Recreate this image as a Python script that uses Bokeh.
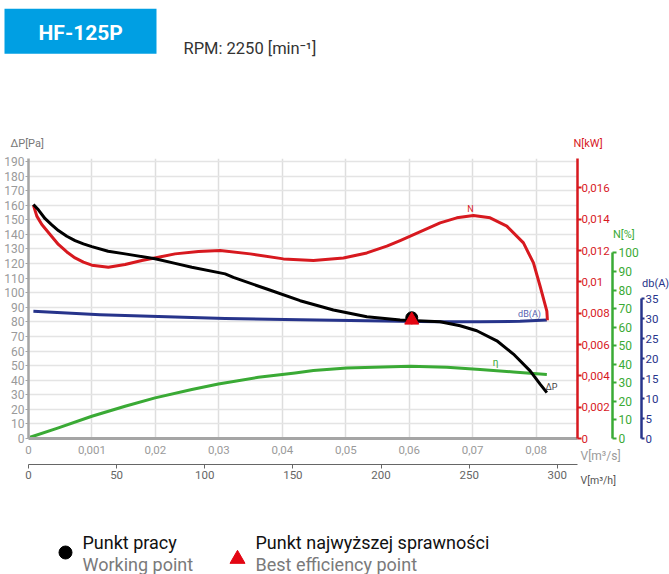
from bokeh.plotting import figure
from bokeh.models import Range1d, LinearAxis, FixedTicker
from bokeh.core.properties import value
from bokeh.embed import file_html
from bokeh.resources import INLINE

# ---------------- data ----------------
flow_dp = [0.00077, 0.00156, 0.00262, 0.00367, 0.00471, 0.00604, 0.00734, 0.00865, 0.00998,
           0.01255, 0.01522, 0.01995, 0.02310, 0.02574, 0.03099, 0.03229, 0.03756, 0.04281,
           0.04805, 0.05332, 0.05857, 0.06487, 0.06802, 0.07065, 0.07381, 0.07642, 0.07905,
           0.08063, 0.08169]
dp_pa = [160.5, 156.8, 150.7, 146.5, 142.6, 138.7, 135.7, 133.5, 131.6,
         128.4, 126.6, 123.2, 120.1, 117.4, 112.9, 110.5, 102.5, 94.5,
         88.1, 83.5, 81.2, 80.1, 77.3, 73.9, 67.0, 57.9, 46.4,
         37.3, 31.5]

flow_n = [0.00077, 0.00131, 0.00210, 0.00340, 0.00471, 0.00604, 0.00734, 0.00865, 0.00998,
          0.01259, 0.01522, 0.01786, 0.02047, 0.02310, 0.02678, 0.03020, 0.03493, 0.04017,
          0.04490, 0.04963, 0.05332, 0.05647, 0.05857, 0.06487, 0.06750, 0.07012, 0.07275,
          0.07538, 0.07800, 0.07958, 0.08063, 0.08169, 0.08178]
power_kw = [0.01490, 0.01420, 0.01366, 0.01303, 0.01239, 0.01191, 0.01153, 0.01126, 0.01107,
            0.01094, 0.01111, 0.01137, 0.01158, 0.01179, 0.01194, 0.01200, 0.01179, 0.01147,
            0.01137, 0.01153, 0.01185, 0.01228, 0.01264, 0.01377, 0.01409, 0.01424, 0.01409,
            0.01356, 0.01249, 0.01121, 0.00972, 0.00813, 0.00755]

flow_db = [0.00077, 0.01128, 0.03099, 0.04281, 0.05857, 0.06487, 0.07117, 0.07747, 0.08169]
noise_db = [31.8, 30.95, 30.0, 29.7, 29.3, 29.2, 29.2, 29.3, 29.6]

flow_eta = [0.00025, 0.00471, 0.00998, 0.01522, 0.01995, 0.02574, 0.02993, 0.03623, 0.04202,
            0.04490, 0.05017, 0.06014, 0.06593, 0.07117, 0.07642, 0.08169]
eta_pct = [0.7, 5.7, 12.0, 17.4, 21.9, 26.4, 29.4, 33.0, 35.3,
           36.6, 38.0, 39.0, 38.4, 37.2, 35.9, 34.5]

working_point_flow = [0.0604]
working_point_dp = [82.8]
best_eff_flow = [0.0604]
best_eff_dp = [81.2]

dp_ticks = list(range(0, 191, 10))
m3s_ticks = [0, 0.01, 0.02, 0.03, 0.04, 0.05, 0.06, 0.07, 0.08]
m3s_labels = ["0", "0,001", "0,02", "0,03", "0,04", "0,05", "0,06", "0,07", "0,08"]
m3h_ticks = [0, 50, 100, 150, 200, 250, 300]
kw_ticks = [0, 0.002, 0.004, 0.006, 0.008, 0.01, 0.012, 0.014, 0.016]
kw_labels = ["0", "0,002", "0,004", "0,006", "0,008", "0,01", "0,012", "0,014", "0,016"]
eta_ticks = [0, 10, 20, 30, 40, 50, 60, 70, 80, 90, 100]
db_ticks = [0, 5, 10, 15, 20, 25, 30, 35]

title_text = "HF-125P"
rpm_text = "RPM: 2250 [min⁻¹]"
legend_main = ["Punkt pracy", "Punkt najwyższej sprawności"]
legend_sub = ["Working point", "Best efficiency point"]

# ---------------- layout ----------------
W, H = 669, 574
FL, FR, FT, FB = 28, 577, 158, 438
XMAX = 0.08652
YMAX = 192.0
KWMAX = 0.01788
ETAMAX = 150.9
DBMAX = 70.0

RED = "#d7191f"
GREEN = "#3aaa35"
NAVY = "#27348b"
GRAY = "#9a9a9a"
FONT = "Roboto"

p = figure(width=W, height=H, output_backend="svg", toolbar_location=None,
           x_range=Range1d(0, XMAX), y_range=Range1d(0, YMAX),
           min_border_left=FL, min_border_right=W - FR,
           min_border_top=FT, min_border_bottom=H - FB)
p.outline_line_color = None
p.background_fill_color = "white"
p.border_fill_color = "white"

p.extra_y_ranges = {"kw": Range1d(0, KWMAX), "eta": Range1d(0, ETAMAX), "db": Range1d(0, DBMAX)}
p.extra_x_ranges = {"h": Range1d(0, XMAX * 3600)}

# grids
p.xgrid.ticker = FixedTicker(ticks=m3s_ticks)
p.ygrid.ticker = FixedTicker(ticks=dp_ticks)
p.xgrid.grid_line_color = "#dedede"
p.xgrid.grid_line_width = 1.5
p.ygrid.grid_line_color = "#e4e4e4"
p.ygrid.grid_line_width = 1.5

# left axis
ya = p.yaxis[0]
ya.ticker = FixedTicker(ticks=dp_ticks)
ya.axis_line_color = "#a5a5a5"
ya.axis_line_width = 2.5
ya.major_tick_out = 3
ya.major_tick_in = 0
ya.major_tick_line_color = "#a5a5a5"
ya.minor_tick_line_color = None
ya.major_label_standoff = 1
ya.major_label_text_font = FONT
ya.major_label_text_font_size = "12px"
ya.major_label_text_color = GRAY

# bottom axis m3/s
xa = p.xaxis[0]
xa.ticker = FixedTicker(ticks=m3s_ticks)
xa.major_label_overrides = dict(zip(m3s_ticks, m3s_labels))
xa.axis_line_color = "#a5a5a5"
xa.axis_line_width = 3
xa.major_tick_out = 0
xa.major_tick_in = 0
xa.minor_tick_line_color = None
xa.major_label_standoff = 7
xa.major_label_text_font = FONT
xa.major_label_text_font_size = "11.5px"
xa.major_label_text_color = GRAY
xa.axis_label = " "
xa.axis_label_text_font_size = "4px"
xa.axis_label_standoff = 0

# bottom axis m3/h
xh = LinearAxis(x_range_name="h", ticker=FixedTicker(ticks=m3h_ticks))
xh.axis_line_color = "#666666"
xh.axis_line_width = 1
xh.major_tick_out = 4
xh.major_tick_in = 0
xh.major_tick_line_color = "#666666"
xh.minor_tick_line_color = None
xh.major_label_standoff = 2
xh.major_label_text_font = FONT
xh.major_label_text_font_size = "11.5px"
xh.major_label_text_color = "#666666"
p.add_layout(xh, "below")


def right_axis(name, ticks, bounds, color, standoff, tick_out, size, overrides=None):
    ax = LinearAxis(y_range_name=name, ticker=FixedTicker(ticks=ticks), bounds=bounds)
    ax.axis_line_color = color
    ax.axis_line_width = 2.5
    ax.major_tick_out = tick_out
    ax.major_tick_in = 0
    ax.major_tick_line_color = color
    ax.major_tick_line_width = 2
    ax.minor_tick_line_color = None
    ax.major_label_standoff = standoff
    ax.major_label_text_font = FONT
    ax.major_label_text_font_size = size
    ax.major_label_text_color = color
    if overrides:
        ax.major_label_overrides = overrides
    p.add_layout(ax, "right")
    return ax

right_axis("kw", kw_ticks, (0, KWMAX), RED, 0, 4, "11.5px", dict(zip(kw_ticks, kw_labels)))
right_axis("eta", eta_ticks, (0, 100), GREEN, 2, 4, "12px")
right_axis("db", db_ticks, (0, 35), NAVY, 1, 3, "11.5px")

# curves
p.line(flow_eta, eta_pct, y_range_name="eta", line_color=GREEN, line_width=3, line_join="round")
p.line(flow_db, noise_db, y_range_name="db", line_color=NAVY, line_width=3, line_join="round")
p.line(flow_n, power_kw, y_range_name="kw", line_color=RED, line_width=3, line_join="round")
p.line(flow_dp, dp_pa, line_color="black", line_width=3, line_join="round")

p.scatter(working_point_flow, working_point_dp, marker="circle", size=12,
          fill_color="black", line_color="black")
p.scatter(best_eff_flow, best_eff_dp, marker="triangle", size=14,
          fill_color="#e30613", line_color="#e30613")

# ---------------- transparent overlay (page pixel coordinates) for texts outside the frame ----------------
ov = figure(width=W, height=H, output_backend="svg", toolbar_location=None,
            x_range=Range1d(0, W), y_range=Range1d(H, 0),
            x_axis_type=None, y_axis_type=None,
            min_border_left=0, min_border_right=0, min_border_top=0, min_border_bottom=0,
            styles={"position": "absolute", "left": "0px", "top": "0px", "z-index": "5"})
ov.outline_line_color = None
ov.background_fill_color = None
ov.border_fill_color = None
ov.grid.visible = False


def txt(s, x, y, size, color, align="left", style="normal"):
    ov.text(x=[x], y=[y], text=[s], text_font=value(FONT), text_font_size=value(size),
            text_color=color, text_align=align, text_baseline="middle",
            text_font_style=style)

# header
ov.quad(left=[4], right=[156], top=[8.3], bottom=[53.3], fill_color="#009fe3", line_color=None)
txt(title_text, 80.2, 32, "21px", "white", align="center", style="bold")
txt(rpm_text, 183, 48, "16.5px", "#333333")

# axis titles
txt("ΔP[Pa]", 10, 143, "11px", "#777777")
txt("N[kW]", 573, 143, "11px", RED)
txt("N[%]", 612.5, 234, "11px", GREEN)
txt("db(A)", 641.5, 283, "11px", NAVY)
txt("V[m³/s]", 580, 455, "12px", GRAY)
txt("V[m³/h]", 580, 480, "10.5px", "#555555")

# curve labels
txt("N", 470, 208, "9px", RED, align="center")
txt("dB(A)", 529, 313, "9px", "#5560b0", align="center")
txt("η", 495, 362, "10px", GREEN, align="center")
txt("ΔP", 551, 386, "9px", "#444444", align="center")

# legend
ov.scatter([65], [552], marker="circle", size=13, fill_color="black", line_color="black")
ov.scatter([237], [558.5], marker="triangle", size=15, fill_color="#e30613", line_color="#e30613")
txt(legend_main[0], 82, 541.5, "18px", "#111111")
txt(legend_sub[0], 82, 564, "18px", "#7a7a7a")
txt(legend_main[1], 255, 541.5, "18px", "#111111")
txt(legend_sub[1], 255, 564, "18px", "#7a7a7a")

open("out.html", "w").write(file_html([p, ov], INLINE))
